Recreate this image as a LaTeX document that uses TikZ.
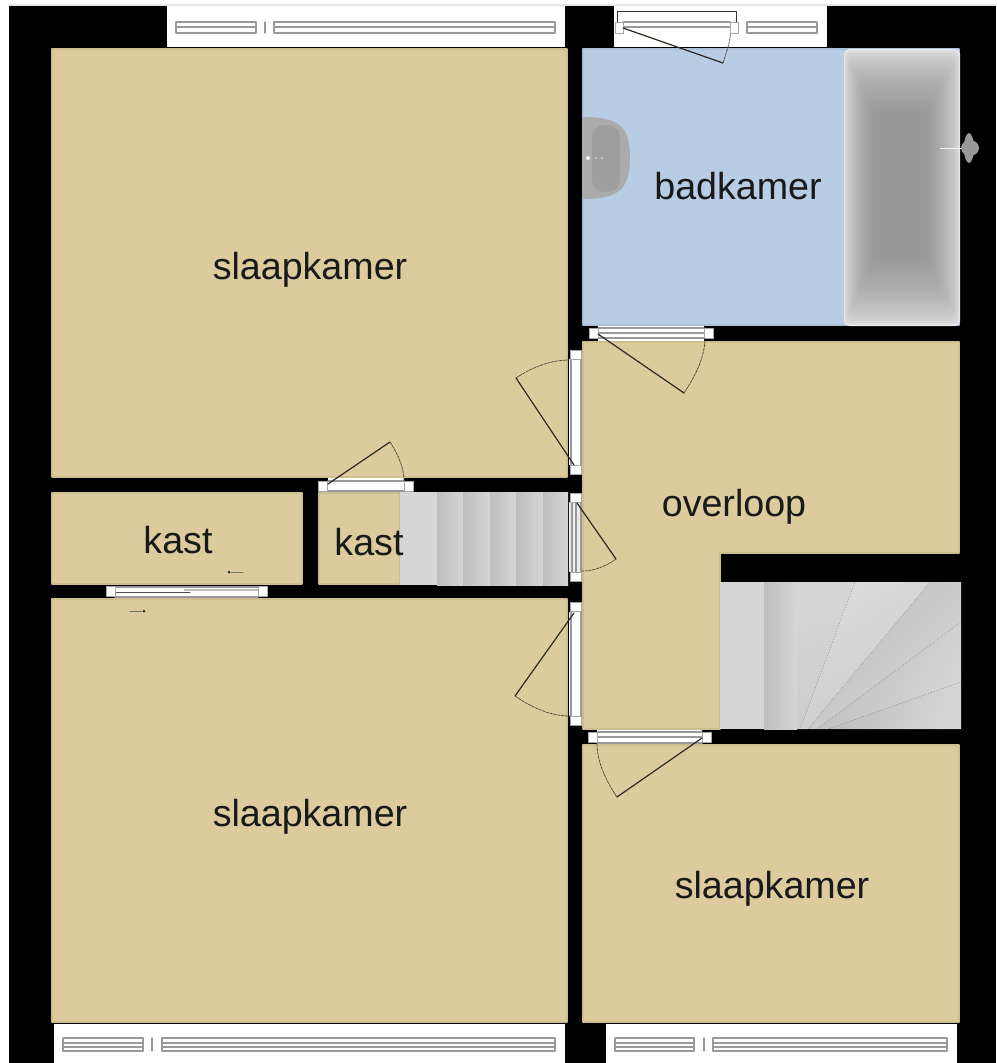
\documentclass[tikz,border=0pt]{standalone}
\usepackage{fontspec}
\setmainfont{Liberation Sans}
\definecolor{roomtan}{HTML}{DBCB9D}
\definecolor{roomedge}{HTML}{CDBD8F}
\definecolor{bathblue}{HTML}{B8CCE4}
\definecolor{bathedge}{HTML}{ACC0D9}
\definecolor{stairlight}{HTML}{D6D6D6}
\definecolor{stairdark}{HTML}{BEBEBE}
\tikzset{
  room/.style={fill=roomtan,draw=roomedge,line width=0.2mm},
  bathroom/.style={fill=bathblue,draw=bathedge,line width=0.2mm},
  label/.style={font=\fontsize{10.7}{13}\selectfont,text=black!90},
  post/.style={fill=white,draw=black!35,line width=0.08mm},
  glass/.style={draw=black!40,line width=0.12mm},
  leaf/.style={draw=black!80!roomtan,line width=0.12mm},
  swing/.style={draw=black!65!roomtan,line width=0.07mm,line cap=butt,dash pattern=on 0.9pt off 0.2pt},
  tread/.style={left color=stairdark,right color=stairlight}
}
\begin{document}
\begin{tikzpicture}[x=0.01cm,y=-0.01cm,line join=round,line cap=round]
\useasboundingbox (0,0) rectangle (996,1063);
\fill[white] (0,0) rectangle (996,1063);
\fill[black!10] (9,4) rectangle (996,6);
\fill[black] (9,6) rectangle (996,1063);

\draw[room] (52,49) rectangle (567,477);
\draw[room] (52,493) rectangle (302,584);
\draw[room] (319,493) rectangle (400,584);
\draw[room] (52,599) rectangle (567,1022);
\draw[room] (583,745) rectangle (959,1022);
\draw[room] (583,342) -- (959,342) -- (959,553) -- (720,553) -- (720,729) -- (583,729) -- cycle;
\draw[bathroom] (583,49) rectangle (959,325);

\fill[white] (167,6) rectangle (565,47);
\fill[white] (614,6) rectangle (827,47);
\fill[white] (54,1024) rectangle (565,1063);
\fill[white] (606,1024) rectangle (957,1063);

\foreach \y in {22,27,33}{
  \draw[glass] (176,\y) -- (256,\y);
  \draw[glass] (274,\y) -- (555,\y);
  \draw[glass] (747,\y) -- (817,\y);
}
\foreach \x in {176,256,265,274,555,747,817}
  \draw[glass] (\x,22) -- (\x,33);
\foreach \y in {1038,1043,1047,1051}{
  \draw[glass] (63,\y) -- (143,\y);
  \draw[glass] (162,\y) -- (555,\y);
  \draw[glass] (615,\y) -- (694,\y);
  \draw[glass] (713,\y) -- (947,\y);
}
\foreach \x in {63,143,152,162,555,615,694,704,713,947}
  \draw[glass] (\x,1038) -- (\x,1051);

\draw[fill=white,draw=black!80,line width=0.1mm] (617,11) rectangle (736,22);
\draw[glass] (623,22) -- (730,22) (623,27) -- (730,27);
\draw[post] (615,22) rectangle (623,33);
\draw[post] (730,22) rectangle (738,33);

\fill[white] (598,326) rectangle (704,341);
\draw[glass] (598,328) -- (704,328) (598,333) -- (704,333) (598,338) -- (704,338);
\fill[white] (328,478) rectangle (404,492);
\draw[glass] (328,481) -- (404,481) (328,491) -- (404,491);
\fill[white] (597,730) rectangle (702,744);
\draw[glass] (597,732) -- (702,732) (597,737) -- (702,737) (597,743) -- (702,743);
\fill[white] (115,586) rectangle (258,597);
\draw[glass] (115,587) -- (258,587) (115,597) -- (258,597);
\draw[black!70,line width=0.1mm] (115,592) -- (190,592);
\fill[black!25] (184,589) rectangle (258,591);

\fill[white] (569,359) rectangle (582,465);
\draw[glass] (571,359) -- (571,465) (581,359) -- (581,465);
\fill[black!8] (569,502) rectangle (582,572);
\draw[glass] (572,502) -- (572,572) (576,502) -- (576,572) (581,502) -- (581,572);
\fill[white] (569,612) rectangle (582,716);
\draw[glass] (571,612) -- (571,716) (581,612) -- (581,716);

\foreach \x/\y in {570/350,570/465,570/493,570/572,570/602,570/716}
  \draw[post] (\x,\y) rectangle ++(11,9);
\foreach \x/\y in {589/328,704/328,318/481,404/481,588/732,702/732,106/586,258/586}
  \draw[post] (\x,\y) rectangle ++(9,10);

\fill[stairlight] (400,492) rectangle (437,585);
\foreach \x/\xx in {437/463,463/490,490/516,516/543,543/568}
  \shade[tread] (\x,492) rectangle (\xx,585);

\fill[stairlight] (720,582) rectangle (764,729);
\shade[tread] (764,582) rectangle (797,729);
\shade[left color=stairlight,right color=black!20,shading angle=20] (797,582) -- (855,582) -- (800,729) -- (797,729) -- cycle;
\shade[left color=black!14,right color=black!20,shading angle=30] (855,582) -- (930,582) -- (808,729) -- (800,729) -- cycle;
\shade[left color=stairdark,right color=stairlight,shading angle=45] (930,582) -- (961,582) -- (961,622) -- (817,729) -- (808,729) -- cycle;
\shade[left color=black!26,right color=stairlight,shading angle=60] (961,622) -- (961,682) -- (828,729) -- (817,729) -- cycle;
\shade[left color=black!26,right color=stairlight,shading angle=70] (961,682) -- (961,729) -- (828,729) -- cycle;

\foreach \i in {0,...,40}{
  \pgfmathsetmacro\tone{9+31*sqrt(\i/40)}
  \fill[black!\tone,rounded corners=1.5pt] (844+0.75*\i,49+1.6*\i) rectangle (960-0.85*\i,326-1.7*\i);
}

\fill[black!33] (582,117) .. controls (618,117) and (630,125) .. (630,158) .. controls (630,190) and (618,199) .. (582,199) -- cycle;
\fill[black!38,rounded corners=3.5pt] (592,125) rectangle (620,192);
\fill[black!5] (588,158) circle (2);
\fill[black!12] (596,158) circle (1) (602,158) circle (1);

\fill[black!5] (940,147.5) rectangle (964,149);
\fill[black!40] (969,148) ellipse (5 and 15);
\fill[black!40] (970,148) ellipse (9 and 8);

\draw[leaf] (623,28) -- (723,63);
\draw[swing] (723,63) .. controls (728,48) and (731,38) .. (730,33);
\draw[leaf] (598,334) -- (684,393);
\draw[swing] (684,393) .. controls (698,372) and (705,354) .. (705,338);
\draw[leaf] (574,465) -- (516,378);
\draw[swing] (516,378) .. controls (534,366) and (552,360) .. (570,360);
\draw[leaf] (328,484) -- (390,442);
\draw[swing] (390,442) .. controls (399,456) and (404,469) .. (404,480);
\draw[leaf] (577,503) -- (616,559);
\draw[swing] (616,559) .. controls (605,567) and (593,571) .. (582,571);
\draw[leaf] (574,613) -- (515,696);
\draw[swing] (515,696) .. controls (534,709) and (552,716) .. (570,716);
\draw[leaf] (702,738) -- (617,797);
\draw[swing] (617,797) .. controls (604,778) and (597,760) .. (597,743);

\draw[black!55,line width=0.07mm] (231,572) -- (243,572) (130,611) -- (142,611);
\fill[black!80] (229,572) circle (1.5) (144,611) circle (1.5);

\node[label] (bedroomtop) at (310,270) {slaapkamer};
\node[label] (bath) at (738,186) {badkamer};
\node[label] (landing) at (734,507) {overloop};
\node[label] (closetleft) at (178,540) {kast};
\node[label] (closetright) at (369,542) {kast};
\node[label] (bedroomleft) at (310,817) {slaapkamer};
\node[label] (bedroomright) at (772,889) {slaapkamer};
\end{tikzpicture}
\end{document}
